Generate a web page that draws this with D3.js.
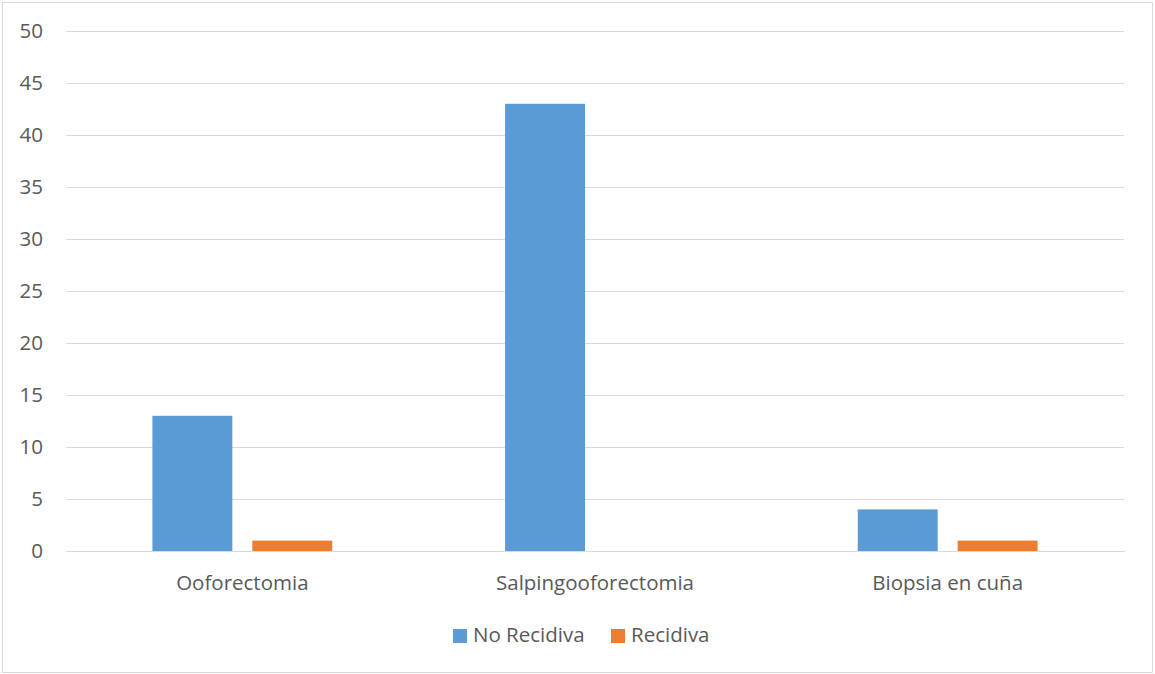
<!DOCTYPE html>
<html>
<head>
<meta charset="utf-8">
<script src="https://cdn.jsdelivr.net/npm/d3@7"></script>
<style>
  html, body { margin: 0; padding: 0; background: #fff; }
  svg { display: block; }
  text { font-family: "Open Sans", sans-serif; fill: #595959; }
</style>
</head>
<body>
<svg id="chart" width="1155" height="674"></svg>
<script>
const categories = ["Ooforectomia", "Salpingooforectomia", "Biopsia en cuña"];
const seriesNames = ["No Recidiva", "Recidiva"];
const noRecidiva = [13, 43, 4];
const recidiva = [1, 0, 1];
const yTicks = [0, 5, 10, 15, 20, 25, 30, 35, 40, 45, 50];
const colors = ["#5B9BD5", "#ED7D31"];

const seriesValues = [noRecidiva, recidiva];
const data = categories.map((c, i) => ({
  category: c,
  values: seriesNames.map((s, j) => ({ series: s, value: seriesValues[j][i] }))
}));

const svg = d3.select("#chart");
const plotLeft = 66, plotRight = 1124, plotTop = 31, plotBottom = 551;

// outer border
svg.append("rect")
  .attr("x", 2.5).attr("y", 2.5)
  .attr("width", 1150).attr("height", 670)
  .attr("fill", "#fff").attr("stroke", "#d9d9d9").attr("stroke-width", 1);

const y = d3.scaleLinear().domain([0, 50]).range([plotBottom, plotTop]);
const x0 = d3.scaleBand().domain(categories).range([plotLeft, plotRight]).paddingInner(0).paddingOuter(0);
const bw = x0.bandwidth();
const groupW = bw * 0.51;
const x1 = d3.scaleBand().domain(seriesNames)
  .range([(bw - groupW) / 2, (bw + groupW) / 2])
  .paddingInner(0.2).paddingOuter(0);

// gridlines
const yAxis = d3.axisLeft(y).tickValues(yTicks).tickSize(-(plotRight - plotLeft)).tickPadding(23);
const gy = svg.append("g").attr("transform", `translate(${plotLeft},0)`).call(yAxis);
gy.select(".domain").remove();
gy.selectAll(".tick line").attr("stroke", "#d9d9d9").attr("stroke-width", 1)
  .attr("shape-rendering", "crispEdges");
gy.selectAll(".tick text")
  .style("font-family", "'Open Sans', sans-serif")
  .style("font-size", "20.5px")
  .attr("fill", "#595959");

// bars
const groups = svg.append("g").selectAll("g")
  .data(data).join("g")
  .attr("transform", d => `translate(${x0(d.category)},0)`);

groups.selectAll("rect")
  .data(d => d.values.filter(v => v.value > 0))
  .join("rect")
  .attr("x", d => x1(d.series))
  .attr("width", x1.bandwidth())
  .attr("y", d => y(d.value))
  .attr("height", d => y(0) - y(d.value))
  .attr("fill", (d) => colors[seriesNames.indexOf(d.series)]);

// x axis
const xAxis = d3.axisBottom(x0).tickSize(0).tickPadding(24);
const gx = svg.append("g").attr("transform", `translate(0,${plotBottom})`).call(xAxis);
gx.select(".domain").attr("stroke", "#d9d9d9").attr("shape-rendering", "crispEdges");
gx.selectAll(".tick text")
  .style("font-family", "'Open Sans', sans-serif")
  .style("font-size", "20.5px")
  .attr("fill", "#595959");

// legend
const legend = svg.append("g");
const legendItems = [
  { name: seriesNames[0], color: colors[0], x: 453 },
  { name: seriesNames[1], color: colors[1], x: 611 }
];
legendItems.forEach(it => {
  legend.append("rect").attr("x", it.x).attr("y", 629).attr("width", 14).attr("height", 14)
    .attr("fill", it.color);
  legend.append("text").attr("x", it.x + 20).attr("y", 642)
    .style("font-size", "20.5px")
    .text(it.name);
});
</script>
</body>
</html>
